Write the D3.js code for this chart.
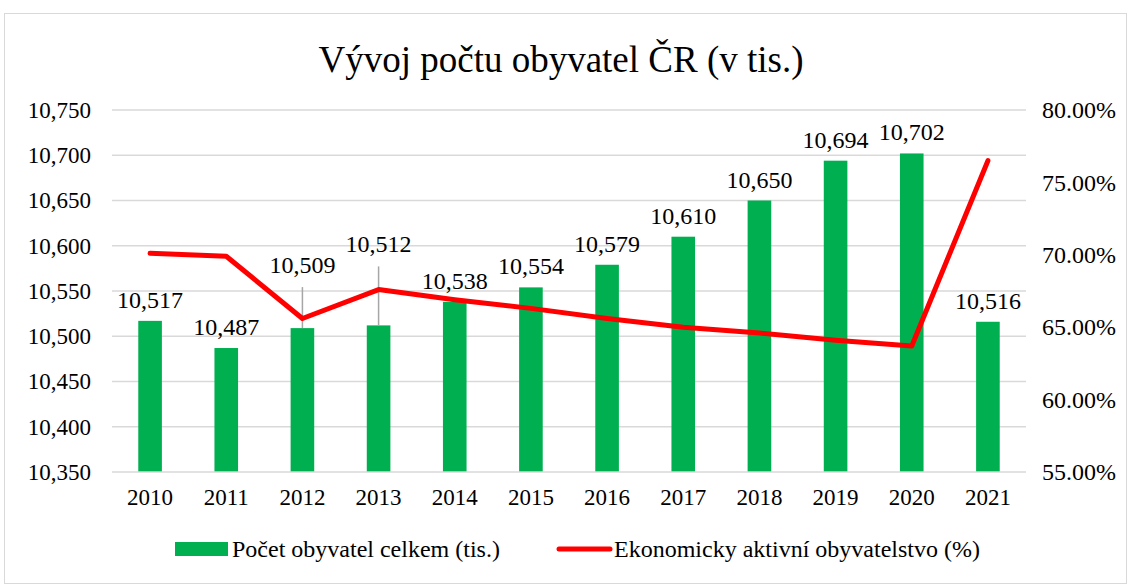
<!DOCTYPE html>
<html>
<head>
<meta charset="utf-8">
<script src="https://cdn.jsdelivr.net/npm/d3@7"></script>
<style>
  body { margin: 0; background: #fff; }
  svg, svg text { font-family: "Liberation Serif", "Times New Roman", serif; }
</style>
</head>
<body>
<svg id="chart"></svg>
<script>
// data
const years = ["2010","2011","2012","2013","2014","2015","2016","2017","2018","2019","2020","2021"];
const population = [10517, 10487, 10509, 10512, 10538, 10554, 10579, 10610, 10650, 10694, 10702, 10516];
const activeShare = [70.1, 69.9, 65.6, 67.6, 66.9, 66.3, 65.6, 65.0, 64.6, 64.1, 63.7, 76.5];
const leftTicks = [10350, 10400, 10450, 10500, 10550, 10600, 10650, 10700, 10750];
const rightTicks = [55, 60, 65, 70, 75, 80];
const seriesNames = ["Počet obyvatel celkem (tis.)", "Ekonomicky aktivní obyvatelstvo (%)"];
const title = "Vývoj počtu obyvatel ČR (v tis.)";

const w = 1129;
const h = 586;
const plot = {left: 112, right: 1026, top: 110, bottom: 472};
const fs = 23;
const serif = "Liberation Serif";

const svg = d3.select("#chart").attr("width", w).attr("height", h);

// chart frame
svg.append("rect")
   .attr("x", 4.5).attr("y", 13.5)
   .attr("width", w - 7).attr("height", h - 16)
   .attr("fill", "#fff").attr("stroke", "#d9d9d9");

svg.append("text")
   .attr("x", 561).attr("y", 72)
   .attr("text-anchor", "middle")
   .attr("font-family", serif)
   .attr("font-size", 37)
   .attr("fill", "#000")
   .text(title);

const x = d3.scaleBand().domain(years).range([plot.left, plot.right]).paddingInner(0.69).paddingOuter(0.345);
const yL = d3.scaleLinear().domain([10350, 10750]).range([plot.bottom, plot.top]);
const yR = d3.scaleLinear().domain([55, 80]).range([plot.bottom, plot.top]);

// gridlines
svg.append("g").selectAll("line")
   .data(leftTicks.slice(1))
   .enter().append("line")
   .attr("x1", plot.left).attr("x2", plot.right)
   .attr("y1", d => yL(d)).attr("y2", d => yL(d))
   .attr("stroke", "#d9d9d9").attr("stroke-width", 1.5);

// left axis
const leftAxis = svg.append("g")
   .attr("transform", `translate(${plot.left},0)`)
   .call(d3.axisLeft(yL).tickValues(leftTicks).tickSize(0).tickPadding(21).tickFormat(d3.format(",")))
   .attr("font-family", serif).attr("font-size", fs);
leftAxis.select(".domain").remove();
leftAxis.selectAll("text").attr("fill", "#000");

// right axis
const rightAxis = svg.append("g")
   .attr("transform", `translate(${plot.right},0)`)
   .call(d3.axisRight(yR).tickValues(rightTicks).tickSize(0).tickPadding(16).tickFormat(d => d3.format(".2f")(d) + "%"))
   .attr("font-family", serif).attr("font-size", 24);
rightAxis.select(".domain").remove();
rightAxis.selectAll("text").attr("fill", "#000");

// bars
svg.append("g").selectAll("rect")
   .data(population)
   .enter().append("rect")
   .attr("x", (d, i) => x(years[i]))
   .attr("y", d => yL(d))
   .attr("width", x.bandwidth())
   .attr("height", d => plot.bottom - yL(d))
   .attr("fill", "#00b050");

// bottom axis
const bottomAxis = svg.append("g")
   .attr("transform", `translate(0,${plot.bottom})`)
   .call(d3.axisBottom(x).tickSize(0).tickPadding(17))
   .attr("font-family", serif).attr("font-size", fs);
bottomAxis.select(".domain").attr("stroke", "#d9d9d9").attr("stroke-width", 1.5)
   .attr("d", `M${plot.left},0H${plot.right}`);
bottomAxis.selectAll("text").attr("fill", "#000");

// labels, some lifted with leader lines
const lift = {"2012": 42, "2013": 60};
const cx = yr => x(yr) + x.bandwidth() / 2;

svg.append("g").selectAll("line")
   .data(years.filter(yr => lift[yr]))
   .enter().append("line")
   .attr("x1", cx).attr("x2", cx)
   .attr("y1", yr => yL(population[years.indexOf(yr)]) - lift[yr] + 1)
   .attr("y2", yr => yL(population[years.indexOf(yr)]))
   .attr("stroke", "#a6a6a6").attr("stroke-width", 1.5);

svg.append("g").selectAll("text")
   .data(population)
   .enter().append("text")
   .attr("x", (d, i) => cx(years[i]))
   .attr("y", (d, i) => yL(d) - 13 - (lift[years[i]] || 0))
   .attr("text-anchor", "middle")
   .attr("font-family", serif)
   .attr("font-size", 24)
   .attr("fill", "#000")
   .text(d => d3.format(",")(d));

// line
const line = d3.line()
   .x((d, i) => cx(years[i]))
   .y(d => yR(d));

svg.append("path")
   .datum(activeShare)
   .attr("d", line)
   .attr("fill", "none")
   .attr("stroke", "#ff0000")
   .attr("stroke-width", 5)
   .attr("stroke-linecap", "round")
   .attr("stroke-linejoin", "round");

// legend
const legend = svg.append("g").attr("transform", "translate(0,549)")
   .attr("font-family", serif).attr("font-size", 24);
legend.append("rect")
   .attr("x", 175).attr("y", -7).attr("width", 53).attr("height", 14)
   .attr("fill", "#00b050");
legend.append("text")
   .attr("x", 232).attr("y", 8)
   .attr("font-family", serif)
   .text(seriesNames[0]);
legend.append("line")
   .attr("x1", 559).attr("x2", 610).attr("y1", 0).attr("y2", 0)
   .attr("stroke", "#ff0000").attr("stroke-width", 5).attr("stroke-linecap", "round");
legend.append("text")
   .attr("x", 614).attr("y", 8)
   .attr("font-family", serif)
   .text(seriesNames[1]);
</script>
</body>
</html>
